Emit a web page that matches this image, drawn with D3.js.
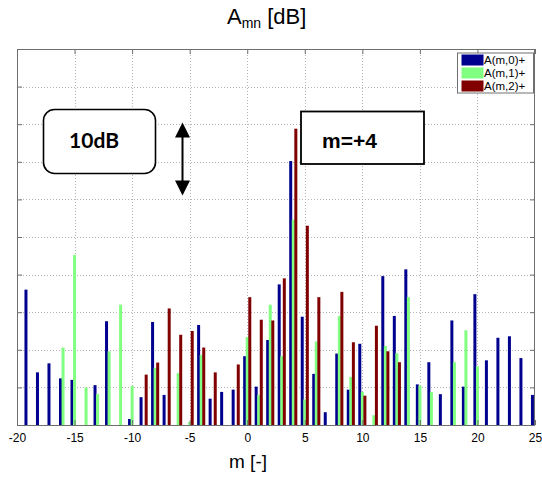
<!DOCTYPE html>
<html>
<head>
<meta charset="utf-8">
<script src="https://cdn.jsdelivr.net/npm/d3@7"></script>
<style>
  html, body { margin: 0; padding: 0; background: #fff; }
  svg { display: block; font-family: "Liberation Sans", Arial, sans-serif; }
</style>
</head>
<body>
<svg id="chart" width="542" height="477"></svg>
<script>
// Azimuthal mode index m
const modes = d3.range(-19, 26);
// Amplitude per mode, one array per radial order (dB above the floor)
const seriesNames = ["A(m,0)+", "A(m,1)+", "A(m,2)+"];
const amp0 = [18.0, 7.0, 8.2, 6.2, 6.0, 0, 5.3, 13.8, 0, 0.8,
              3.7, 13.7, 4.0, 0, 0, 13.3, 3.5, 4.4, 4.7, 9.15,
              5.1, 11.3, 18.7, 35.1, 14.4, 6.8, 1.7, 9.5, 4.7, 10.8,
              0, 19.8, 14.5, 20.7, 5.4, 8.35, 4.1, 13.9, 5.1, 17.4,
              8.6, 11.6, 11.8, 8.9, 4.0];
const amp1 = [0, 0, 0, 10.3, 22.6, 5.0, 4.1, 9.8, 16.0, 5.2,
              0, 7.6, 0, 6.9, 0.4, 9.3, 0, 0, 0, 11.7,
              4.0, 16.0, 9.15, 27.3, 3.4, 11.1, 0, 14.5, 6.4, 4.4,
              1.3, 10.5, 9.55, 17.0, 5.25, 4.4, 0, 8.35, 12.6, 7.8,
              0, 0, 0, 0, 0];
const amp2 = [0, 0, 0, 0, 0, 0, 0, 0, 0, 0,
              6.7, 8.3, 15.5, 12.0, 12.5, 10.3, 7.0, 0, 8.05, 17.0,
              14.0, 13.9, 19.5, 39.4, 26.5, 17.0, 0, 17.7, 11.0, 3.9,
              13.2, 9.8, 8.35, 0, 0, 0, 0, 0, 0, 0,
              0, 0, 0, 0, 0];
const xTicks = [-20, -15, -10, -5, 0, 5, 10, 15, 20, 25];
const yTicks = d3.range(0, 51, 5);
const colors = ["#00008f", "#80ff80", "#800000"];

const svg = d3.select("#chart");
const plot = { left: 17, right: 535, top: 49, bottom: 425 };

const x = d3.scaleLinear().domain([-20, 25]).range([plot.left, plot.right]);
const y = d3.scaleLinear().domain([0, 50]).range([plot.bottom, plot.top]);

// grouped bar offsets within one mode slot
const step = 0.222, barW = 0.26;
const offset = d3.scaleOrdinal().domain([0, 1, 2]).range([-step, 0, step]);

// grid
const grid = svg.append("g").attr("stroke", "#b4b4b4").attr("stroke-dasharray", "1,2").attr("stroke-width", 1);
grid.selectAll("line.v").data(xTicks.slice(1, -1)).join("line")
  .attr("x1", d => Math.round(x(d)) + 0.5).attr("x2", d => Math.round(x(d)) + 0.5)
  .attr("y1", plot.top).attr("y2", plot.bottom);
grid.selectAll("line.h").data(yTicks.slice(1, -1)).join("line")
  .attr("x1", plot.left).attr("x2", plot.right)
  .attr("y1", d => Math.round(y(d)) + 0.5).attr("y2", d => Math.round(y(d)) + 0.5);

// bars
const series = [amp0, amp1, amp2];
series.forEach((vals, si) => {
  svg.append("g").attr("fill", colors[si])
    .selectAll("rect").data(modes.map((m, i) => ({ m, v: vals[i] })).filter(d => d.v > 0))
    .join("rect")
    .attr("x", d => x(d.m + offset(si) - barW / 2))
    .attr("width", x(barW) - x(0))
    .attr("y", d => y(d.v))
    .attr("height", d => y(0) - y(d.v));
});

// axes frame with inward ticks
const axisColor = "#6e6e6e";
const bottomAxis = d3.axisBottom(x).tickValues(xTicks).tickSize(-5).tickPadding(8)
  .tickFormat(d3.format("d"));
const gx = svg.append("g").attr("transform", `translate(0,${plot.bottom})`).call(bottomAxis);
gx.select(".domain").remove();
gx.selectAll("line").attr("stroke", axisColor);
gx.selectAll("text").attr("font-size", 12).attr("fill", "#000")
  .attr("font-family", "Liberation Sans, Arial, sans-serif")
  .text(d => String(d));

const topAxis = d3.axisTop(x).tickValues(xTicks).tickSize(-5).tickFormat("");
const gt = svg.append("g").attr("transform", `translate(0,${plot.top})`).call(topAxis);
gt.select(".domain").remove();
gt.selectAll("line").attr("stroke", axisColor);

const leftAxis = d3.axisLeft(y).tickValues(yTicks).tickSize(-5).tickFormat("");
const gl = svg.append("g").attr("transform", `translate(${plot.left},0)`).call(leftAxis);
gl.select(".domain").remove();
gl.selectAll("line").attr("stroke", axisColor);

const rightAxis = d3.axisRight(y).tickValues(yTicks).tickSize(-5).tickFormat("");
const gr = svg.append("g").attr("transform", `translate(${plot.right},0)`).call(rightAxis);
gr.select(".domain").remove();
gr.selectAll("line").attr("stroke", axisColor);

svg.append("rect")
  .attr("x", plot.left + 0.5).attr("y", plot.top + 0.5)
  .attr("width", plot.right - plot.left - 1).attr("height", plot.bottom - plot.top)
  .attr("fill", "none").attr("stroke", axisColor).attr("stroke-width", 1);

// title with subscript
const title = svg.append("text").attr("x", 227).attr("y", 24)
  .attr("font-size", 22).attr("fill", "#000");
title.append("tspan").text("A");
title.append("tspan").attr("font-size", 14).attr("dy", 4).text("mn");
title.append("tspan").attr("dy", -4).text(" [dB]");

// x label
svg.append("text").attr("x", 248).attr("y", 468).attr("text-anchor", "middle")
  .attr("font-size", 19).attr("fill", "#000").text("m [-]");

// legend
const rowH = 13;
const lg = svg.append("g").attr("transform", "translate(457.5,53)");
lg.append("rect").attr("width", 76).attr("height", 40)
  .attr("fill", "#fff").attr("stroke", "#707070");
seriesNames.forEach((name, i) => {
  lg.append("rect").attr("x", 4).attr("y", 1.5 + i * rowH).attr("width", 22).attr("height", 11)
    .attr("fill", colors[i]);
  lg.append("text").attr("x", 26.5).attr("y", 11.3 + i * rowH)
    .attr("font-size", 11.5).attr("fill", "#000").text(name);
});

// annotation: scale box
svg.append("rect").attr("x", 43.5).attr("y", 109.5).attr("width", 112).attr("height", 64)
  .attr("rx", 11).attr("ry", 11).attr("fill", "#fff").attr("stroke", "#000").attr("stroke-width", 1.6);
svg.append("text").attr("x", 94).attr("y", 148).attr("text-anchor", "middle")
  .attr("font-family", "Lato, 'Open Sans', sans-serif").attr("font-weight", "bold")
  .attr("font-size", 21).attr("fill", "#000").text("10dB");

// annotation: double arrow
const ax = 182.5, ay1 = 122.5, ay2 = 195.5, hw = 7.5, hl = 15;
svg.append("line").attr("x1", ax).attr("x2", ax).attr("y1", ay1 + hl - 2).attr("y2", ay2 - hl + 2)
  .attr("stroke", "#000").attr("stroke-width", 2);
svg.append("path").attr("d", `M${ax},${ay1} L${ax - hw},${ay1 + hl} L${ax + hw},${ay1 + hl} Z`).attr("fill", "#000");
svg.append("path").attr("d", `M${ax},${ay2} L${ax - hw},${ay2 - hl} L${ax + hw},${ay2 - hl} Z`).attr("fill", "#000");

// annotation: dominant mode box
svg.append("rect").attr("x", 301).attr("y", 111.5).attr("width", 123).attr("height", 52.5)
  .attr("fill", "#fff").attr("stroke", "#000").attr("stroke-width", 1.8);
svg.append("text").attr("x", 322).attr("y", 148)
  .attr("font-weight", "bold").attr("font-size", 21).attr("fill", "#000").text("m=+4");
</script>
</body>
</html>
